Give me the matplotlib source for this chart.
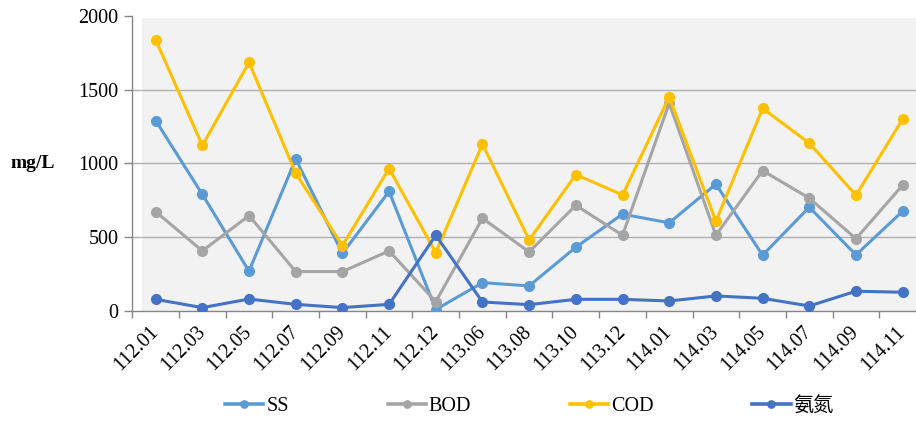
import numpy as np
import matplotlib
matplotlib.use("Agg")
import matplotlib.pyplot as plt

plt.rcParams['font.family'] = ['Liberation Serif', 'Noto Sans CJK TC']

months = ['112.01', '112.03', '112.05', '112.07', '112.09', '112.11', '112.12',
          '113.06', '113.08', '113.10', '113.12', '114.01', '114.03', '114.05',
          '114.07', '114.09', '114.11']
ss = [1290, 790, 270, 1030, 390, 810, 10, 192, 170, 432, 656, 597, 859, 378, 703, 380, 676]
bod = [673, 407, 646, 267, 267, 407, 63, 628, 400, 716, 513, 1408, 513, 951, 764, 490, 852]
cod = [1837, 1121, 1684, 933, 443, 965, 395, 1130, 481, 924, 786, 1449, 608, 1372, 1137, 784, 1300]
nh3 = [79, 23, 81, 45, 23, 45, 513, 61, 43, 79, 79, 68, 102, 86, 34, 134, 127]

series = [('SS', ss, '#5B9BD5'), ('BOD', bod, '#A5A5A5'),
          ('COD', cod, '#FFC000'), ('氨氮', nh3, '#4472C4')]

fig = plt.figure(figsize=(9.16, 4.23), dpi=100)
ax = fig.add_axes([132.3/916, 112/423, 793.7/916, 295.3/423])
ax.set_facecolor('white')

x = np.arange(len(months))
ax.set_xlim(-0.5, len(months) - 0.5)
ax.set_ylim(0, 2000)
ax.axvspan(-0.29, len(months), ymin=0, ymax=0.993, color='#f2f2f2', zorder=0, lw=0)

for name, vals, col in series:
    ax.plot(x, vals, '-o', color=col, lw=2.2, ms=7, label=name, zorder=3)

ax.set_yticks([0, 500, 1000, 1500, 2000])
ax.yaxis.grid(True, color='#b0b0b0', lw=1.0, zorder=1)
ax.set_axisbelow(True)
ax.get_ygridlines()[-1].set_visible(False)
ax.get_ygridlines()[0].set_visible(False)

ax.set_xticks(x)
ax.set_xticklabels(months, rotation=45, ha='right', va='center',
                   rotation_mode='anchor', fontsize=14.5)
ax.set_xticks(np.arange(-0.5, len(months), 1), minor=True)
ax.tick_params(axis='x', which='major', length=0, pad=13)
ax.tick_params(axis='x', which='minor', length=5, color='#868686', width=1)
ax.tick_params(axis='y', length=6, color='#868686', width=1, labelsize=14.5, pad=4)

for s in ['top', 'right']:
    ax.spines[s].set_visible(False)
for s in ['left', 'bottom']:
    ax.spines[s].set_color('#868686')
    ax.spines[s].set_linewidth(1)

ax.set_ylabel('mg/L', rotation=0, fontsize=14, fontweight='bold', va='center')
ax.yaxis.set_label_coords(-0.125, 0.5)

leg = fig.legend(loc='center', bbox_to_anchor=(0.578, 0.038), ncol=4, frameon=False,
                 fontsize=14.5, handlelength=1.9, handletextpad=0.15, columnspacing=4.9,
                 markerscale=0.75)
for h in leg.legend_handles:
    h.set_linewidth(2.6)

fig.savefig('out.png', dpi=100)
